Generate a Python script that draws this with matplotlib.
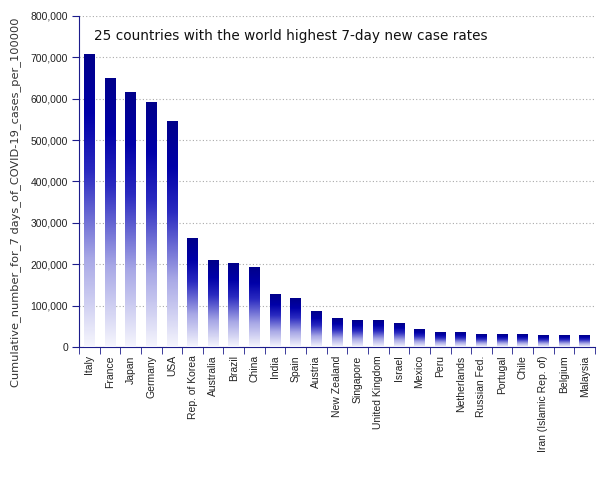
import matplotlib
matplotlib.use("Agg")
import matplotlib.pyplot as plt
import numpy as np
from matplotlib.colors import LinearSegmentedColormap
from matplotlib.ticker import FuncFormatter, MultipleLocator

countries = ["Italy", "France", "Japan", "Germany", "USA", "Rep. of Korea", "Australia",
             "Brazil", "China", "India", "Spain", "Austria", "New Zealand", "Singapore",
             "United Kingdom", "Israel", "Mexico", "Peru", "Netherlands", "Russian Fed.",
             "Portugal", "Chile", "Iran (Islamic Rep. of)", "Belgium", "Malaysia"]
values = [708000, 650000, 616000, 592000, 546000, 263000, 208000, 203000, 193000,
          128000, 118000, 85000, 70000, 65000, 65000, 58000, 43000, 36000, 34000,
          31000, 31000, 31000, 29000, 29000, 29000]

title = "25 countries with the world highest 7-day new case rates"
ylabel = "Cumulative_number_for_7 days_of_COVID-19_cases_per_100000"

fig = plt.figure(figsize=(6.05, 4.8), dpi=100)
ax = fig.add_axes([79/605, 1-347/480, (595-79)/605, (347-16)/480])

x = np.arange(len(countries))
bars = ax.bar(x, values, width=0.52, color="none", edgecolor="none", zorder=3)

cmap = LinearSegmentedColormap.from_list("grad", [
    (0.0, "#f6f6fd"), (0.3, "#a8a8e6"), (0.6, "#2a2ac0"),
    (0.8, "#0000a8"), (1.0, "#00008a")])
grad = np.linspace(0, 1, 256).reshape(-1, 1)
for b in bars:
    x0, w, h = b.get_x(), b.get_width(), b.get_height()
    ax.imshow(grad, cmap=cmap, origin="lower", aspect="auto",
              extent=(x0, x0 + w, 0, h), zorder=3, interpolation="bilinear")

ax.set_xlim(-0.5, len(countries) - 0.5)
ax.set_ylim(0, 800000)

navy = "#1c1c8c"
for s in ["top", "right"]:
    ax.spines[s].set_visible(False)
for s in ["left", "bottom"]:
    ax.spines[s].set_color(navy)

ax.yaxis.set_major_locator(MultipleLocator(100000))
ax.yaxis.set_major_formatter(FuncFormatter(lambda v, p: f"{int(v):,}"))
ax.tick_params(axis="y", direction="out", length=5, color=navy, labelsize=7.5,
               labelcolor="#222222", pad=3)
for lab in ax.get_yticklabels():
    lab.set_fontfamily("Liberation Sans")

ax.set_xticks(x)
ax.set_xticklabels(countries, rotation=90, fontsize=7.5, fontfamily="Liberation Sans",
                   color="#222222")
ax.tick_params(axis="x", which="major", length=0, pad=6)
ax.set_xticks(np.arange(-0.5, len(countries), 1.0), minor=True)
ax.tick_params(axis="x", which="minor", length=5, color=navy, direction="out")

ax.grid(axis="y", color="#aaaaaa", linestyle=(0, (1, 2)), linewidth=0.8, zorder=0)
ax.set_axisbelow(True)

ax.set_ylabel(ylabel, fontsize=8.2, color="#333333")
ax.yaxis.set_label_coords(-0.113, 0.438)
ax.text(0.03, 0.94, title, transform=ax.transAxes, fontsize=9.8, color="#111111",
        va="center", ha="left")

fig.savefig("out.png", dpi=100)
